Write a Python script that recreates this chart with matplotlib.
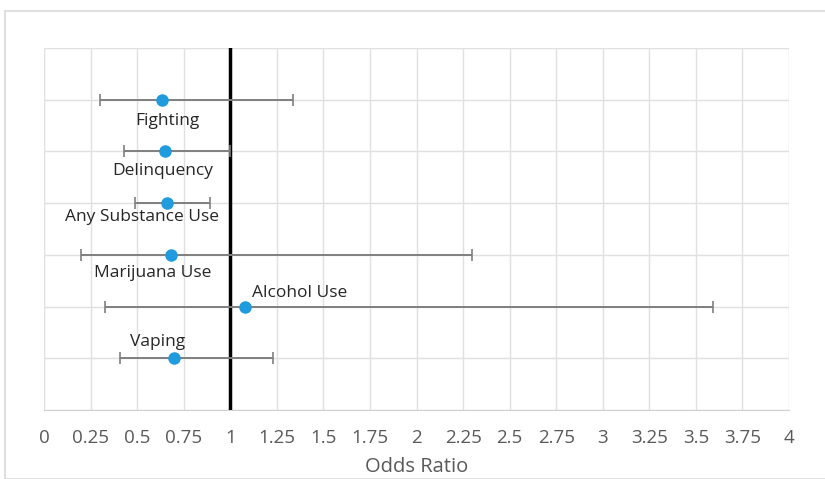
import matplotlib
matplotlib.use("Agg")
import matplotlib.pyplot as plt
from matplotlib.patches import Rectangle

# data
outcomes = ["Fighting", "Delinquency", "Any Substance Use", "Marijuana Use", "Alcohol Use", "Vaping"]
rows = [6, 5, 4, 3, 2, 1]
odds = [0.634, 0.65, 0.66, 0.68, 1.08, 0.70]
ci_low = [0.30, 0.43, 0.49, 0.20, 0.33, 0.41]
ci_high = [1.337, 1.0, 0.89, 2.30, 3.59, 1.23]
xticks = [0, 0.25, 0.5, 0.75, 1, 1.25, 1.5, 1.75, 2, 2.25, 2.5, 2.75, 3, 3.25, 3.5, 3.75, 4]

# label offsets in points (dx, dy, ha)
label_pos = [(4, -15, "center"), (-2, -14, "center"), (-18, -10, "center"),
             (-13, -13, "center"), (5, 10, "left"), (-12, 12, "center")]

plt.rcParams["font.family"] = ["Open Sans", "DejaVu Sans"]

fig = plt.figure(figsize=(8.25, 4.79), dpi=100)
ax = fig.add_axes([44 / 825, 69 / 479, 745 / 825, 362 / 479])

# outer chart frame
fig.patches.append(Rectangle((5 / 825, 0), 1, 1 - 11 / 479, transform=fig.transFigure,
                             fill=False, edgecolor="#d9d9d9", linewidth=1.2))

lo_err = [o - l for o, l in zip(odds, ci_low)]
hi_err = [h - o for o, h in zip(odds, ci_high)]

ax.axvline(1, color="black", linewidth=2.5, zorder=3)
ax.errorbar(odds, rows, xerr=[lo_err, hi_err], fmt="none", ecolor="#7f7f7f",
            elinewidth=1.4, capsize=4, capthick=1.2, zorder=4)
ax.plot(odds, rows, "o", color="#1f9bde", markersize=8, zorder=5)

for name, x, y, (dx, dy, ha) in zip(outcomes, odds, rows, label_pos):
    ax.annotate(name, (x, y), xytext=(dx, dy), textcoords="offset points",
                ha=ha, va="center", fontsize=12.5, color="#262626")

ax.set_xlim(0, 4)
ax.set_ylim(0, 7)
ax.set_xticks(xticks)
ax.set_xticklabels([f"{t:g}" for t in xticks])
ax.set_yticks(range(0, 8))
ax.set_yticklabels([])
ax.tick_params(axis="both", length=0, labelsize=13.5, labelcolor="#595959", pad=14)
ax.grid(True, color="#e0e0e0", linewidth=1)
ax.set_axisbelow(True)
for side in ["top", "right", "left"]:
    ax.spines[side].set_visible(False)
ax.spines["bottom"].set_color("#d0d0d0")
ax.set_xlabel("Odds Ratio", fontsize=14.5, color="#595959", labelpad=7)

plt.savefig("out.png", dpi=100)
